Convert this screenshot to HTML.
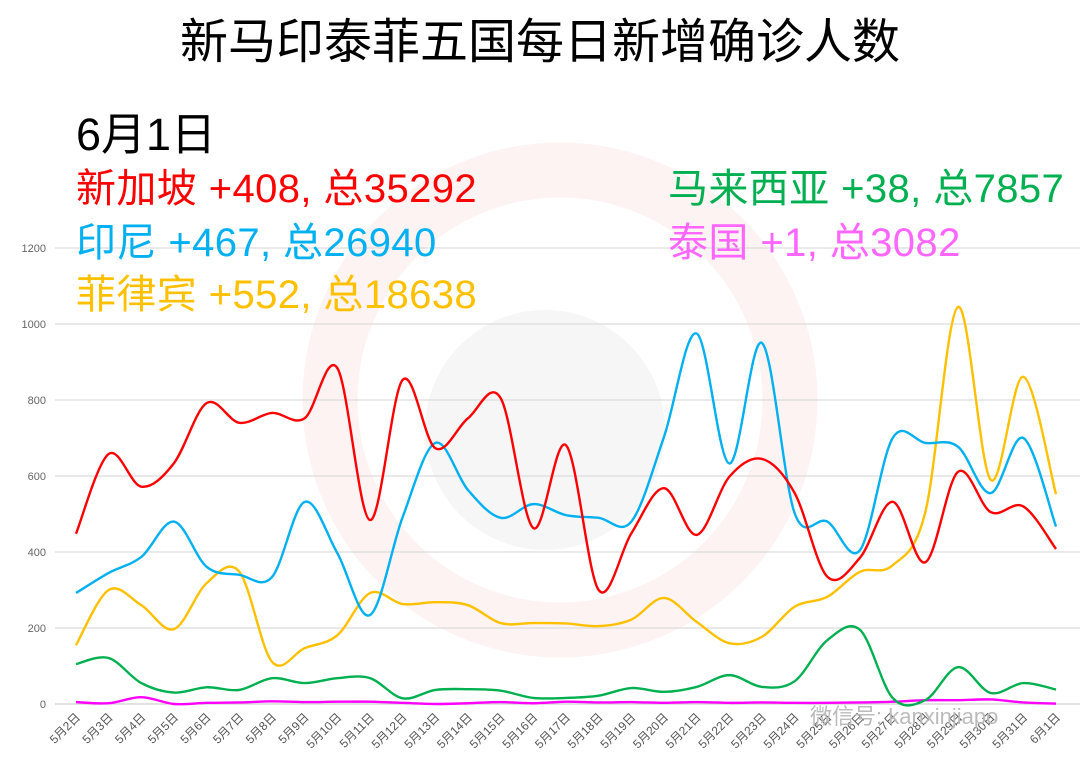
<!DOCTYPE html>
<html><head><meta charset="utf-8">
<style>
html,body{margin:0;padding:0;background:#fff;}
body{width:1080px;height:766px;overflow:hidden;position:relative;font-family:"Liberation Sans","Noto Sans CJK SC",sans-serif;}
.t{position:absolute;white-space:nowrap;line-height:1;}
.lg{font-size:40px;letter-spacing:0.4px;}
</style></head>
<body>
<svg id="chart" width="1080" height="766" style="position:absolute;left:0;top:0">
  <g opacity="0.5">
    <circle cx="560" cy="400" r="230" fill="none" stroke="#fbd9d9" stroke-width="55" opacity="0.6"/>
    <circle cx="545" cy="430" r="120" fill="#e2e2e2" opacity="0.6"/>
  </g>
  <g id="grid"></g>
  <g id="ylab"></g>
  <g id="xlab"></g>
  <g id="series"></g>
  <text x="810" y="724" font-size="22" fill="#bbb" font-family="Liberation Sans, Noto Sans CJK SC, sans-serif">微信号: kanxinjiapo</text>
</svg>
<div class="t" style="left:0;width:1080px;text-align:center;top:19px;font-size:48px;color:#000;">新马印泰菲五国每日新增确诊人数</div>
<div class="t" style="left:76px;top:112px;font-size:45px;color:#000;">6月1日</div>
<div class="t lg" style="left:76px;top:169px;color:#ff0000;">新加坡 +408, 总35292</div>
<div class="t lg" style="left:76px;top:223px;color:#00b0f0;">印尼 +467, 总26940</div>
<div class="t lg" style="left:76px;top:275px;color:#ffc000;">菲律宾 +552, 总18638</div>
<div class="t lg" style="left:668px;top:169px;color:#00b050;">马来西亚 +38, 总7857</div>
<div class="t lg" style="left:668px;top:223px;color:#ff66ff;">泰国 +1, 总3082</div>
<script>
const categories = ["5月2日","5月3日","5月4日","5月5日","5月6日","5月7日","5月8日","5月9日","5月10日","5月11日","5月12日","5月13日","5月14日","5月15日","5月16日","5月17日","5月18日","5月19日","5月20日","5月21日","5月22日","5月23日","5月24日","5月25日","5月26日","5月27日","5月28日","5月29日","5月30日","5月31日","6月1日"];
const yTicks = [0,200,400,600,800,1000,1200];
const singapore = [448,658,572,634,792,740,766,752,884,484,853,673,752,805,463,681,300,449,568,445,598,645,555,335,385,532,373,611,505,520,408];
const indonesia = [292,345,387,480,361,340,334,532,397,234,492,687,563,490,526,497,490,480,703,975,633,950,502,480,405,700,687,677,555,700,467];
const philippines = [155,300,260,197,318,348,111,147,181,292,263,268,260,213,213,212,205,222,279,216,160,177,256,282,348,365,505,1045,590,861,552];
const malaysia = [105,121,55,30,44,37,68,55,68,68,15,37,39,35,16,16,22,42,32,45,76,45,60,168,195,16,10,97,29,55,38];
const thailand = [5,2,18,0,3,4,7,5,6,6,3,0,2,5,2,6,4,5,3,5,3,4,3,3,4,6,10,10,12,4,1];

const X0=76, X1=1056, Y0=704, Y1200=248;
const xs = i => X0 + (X1-X0)*i/(categories.length-1);
const ys = v => Y0 - (Y0-Y1200)*v/1200;
const NS="http://www.w3.org/2000/svg";
const grid=document.getElementById('grid'), ylab=document.getElementById('ylab'), xlab=document.getElementById('xlab'), ser=document.getElementById('series');
yTicks.forEach(t=>{
  const l=document.createElementNS(NS,'line');
  l.setAttribute('x1',55);l.setAttribute('x2',1080);l.setAttribute('y1',ys(t));l.setAttribute('y2',ys(t));
  l.setAttribute('stroke',t===0?'#cfcfcf':'#dcdcdc');l.setAttribute('stroke-width',1.2);
  
  
  grid.appendChild(l);
  const tx=document.createElementNS(NS,'text');
  tx.setAttribute('x',46);tx.setAttribute('y',ys(t)+4);tx.setAttribute('text-anchor','end');
  tx.setAttribute('font-size','11');tx.setAttribute('fill','#666');tx.setAttribute('font-family','Liberation Sans, sans-serif');
  tx.textContent=t;
  
  
  ylab.appendChild(tx);
});
categories.forEach((c,i)=>{
  const tx=document.createElementNS(NS,'text');
  const x=xs(i)+5, y=718;
  tx.setAttribute('x',x);tx.setAttribute('y',y);tx.setAttribute('text-anchor','end');
  tx.setAttribute('transform','rotate(-45 '+x+' '+y+')');
  tx.setAttribute('font-size','12');tx.setAttribute('fill','#555');
  tx.setAttribute('font-family','Liberation Sans, Noto Sans CJK SC, sans-serif');
  tx.textContent=c;
  
  
  xlab.appendChild(tx);
});
function path(vals){
  const p=vals.map((v,i)=>[xs(i),ys(v)]);
  let d='M'+p[0][0]+','+p[0][1];
  for(let i=0;i<p.length-1;i++){
    const a=p[Math.max(0,i-1)],b=p[i],c=p[i+1],e=p[Math.min(p.length-1,i+2)];
    const k=1/6;
    d+=' C'+(b[0]+(c[0]-a[0])*k)+','+(b[1]+(c[1]-a[1])*k)+' '+(c[0]-(e[0]-b[0])*k)+','+(c[1]-(e[1]-b[1])*k)+' '+c[0]+','+c[1];
  }
  return d;
}
[[thailand,'#ff00ff','line-thailand'],[malaysia,'#00b050','line-malaysia'],[philippines,'#ffc000','line-philippines'],[indonesia,'#00b0f0','line-indonesia'],[singapore,'#ff0000','line-singapore']].forEach(([v,col,name])=>{
  const pa=document.createElementNS(NS,'path');
  pa.setAttribute('d',path(v));pa.setAttribute('fill','none');pa.setAttribute('stroke',col);pa.setAttribute('stroke-width',2.4);
  
  
  ser.appendChild(pa);
});
</script>
</body></html>
